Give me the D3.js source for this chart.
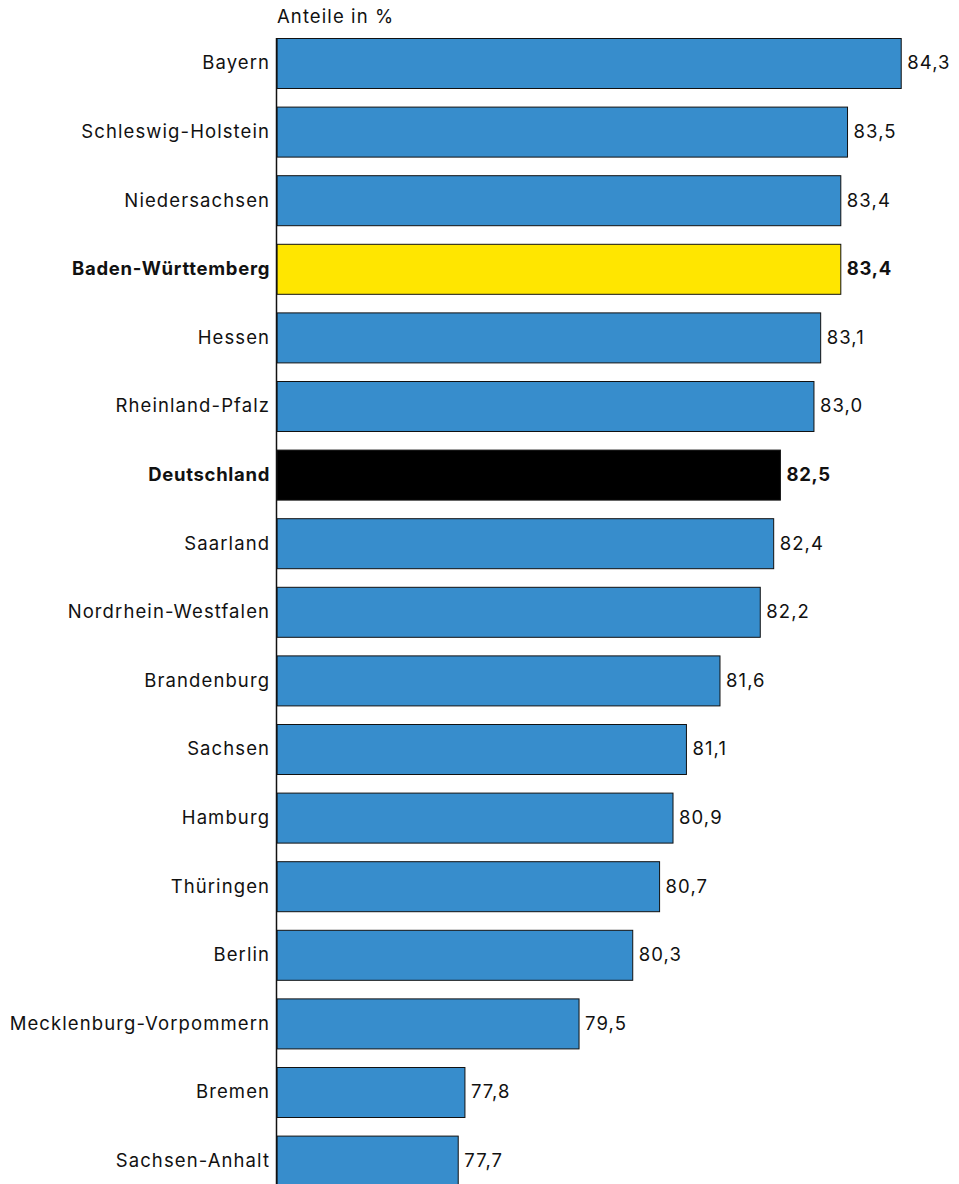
<!DOCTYPE html>
<html>
<head>
<meta charset="utf-8">
<script src="https://cdn.jsdelivr.net/npm/d3@7"></script>
<style>
  body { margin: 0; background: #fff; }
  svg { display: block; font-family: Inter, "Noto Sans", sans-serif; letter-spacing: 1.1px; }
</style>
</head>
<body>
<svg id="chart" width="959" height="1184"></svg>
<script>
var laender = ["Bayern", "Schleswig-Holstein", "Niedersachsen", "Baden-Württemberg", "Hessen",
  "Rheinland-Pfalz", "Deutschland", "Saarland", "Nordrhein-Westfalen", "Brandenburg", "Sachsen",
  "Hamburg", "Thüringen", "Berlin", "Mecklenburg-Vorpommern", "Bremen", "Sachsen-Anhalt"];
var anteile = [84.3, 83.5, 83.4, 83.4, 83.1, 83.0, 82.5, 82.4, 82.2, 81.6, 81.1, 80.9, 80.7, 80.3, 79.5, 77.8, 77.7];
var hervorgehoben = { "Baden-Württemberg": "#ffe600", "Deutschland": "#000000" };
var einheit = "Anteile in %";

var svg = d3.select("#chart");
var left = 277, top0 = 38, step = 68.6, barH = 50;
var fs = 18.5, ls = 1.1;

var x = d3.scaleLinear().domain([75, 85]).range([left, left + 671.2]);
// Bandskala: Schrittweite step, Balkenhoehe barH
var y = d3.scaleBand()
  .domain(laender)
  .range([top0, top0 + step * (laender.length - 1) + barH])
  .paddingInner((step - barH) / step)
  .paddingOuter(0);

var fmt = function(v) { return d3.format(".1f")(v).replace(".", ","); };

var data = laender.map(function(d, i) { return { name: d, value: anteile[i] }; });

svg.append("text")
  .attr("x", left)
  .attr("y", 23)
  .attr("font-size", fs)
  .attr("fill", "#111")
  .text(einheit);

svg.selectAll("rect.bar")
  .data(data)
  .enter().append("rect")
  .attr("class", "bar")
  .attr("x", x(75))
  .attr("y", function(d) { return y(d.name) + 0.5; })
  .attr("width", function(d) { return x(d.value) - x(75); })
  .attr("height", y.bandwidth())
  .attr("fill", function(d) { return hervorgehoben[d.name] || "#378dcc"; })
  .attr("stroke", "#111")
  .attr("stroke-width", 1);

svg.selectAll("text.name")
  .data(data)
  .enter().append("text")
  .attr("class", "name")
  .attr("x", left - 8 + ls)
  .attr("y", function(d) { return y(d.name) + y.bandwidth() / 2; })
  .attr("dy", "0.35em")
  .attr("text-anchor", "end")
  .attr("font-size", fs)
  .attr("font-weight", function(d) { return hervorgehoben[d.name] ? 700 : 400; })
  .attr("letter-spacing", function(d) { return hervorgehoben[d.name] ? "0.7px" : null; })
  .attr("fill", "#111")
  .text(function(d) { return d.name; });

svg.selectAll("text.val")
  .data(data)
  .enter().append("text")
  .attr("class", "val")
  .attr("x", function(d) { return x(d.value) + 6; })
  .attr("y", function(d) { return y(d.name) + y.bandwidth() / 2; })
  .attr("dy", "0.35em")
  .attr("font-size", fs)
  .attr("font-weight", function(d) { return hervorgehoben[d.name] ? 700 : 400; })
  .attr("letter-spacing", function(d) { return hervorgehoben[d.name] ? "0.7px" : null; })
  .attr("fill", "#111")
  .text(function(d) { return fmt(d.value); });

// Grundlinie
svg.append("line")
  .attr("x1", left - 0.5).attr("x2", left - 0.5)
  .attr("y1", top0).attr("y2", 1184)
  .attr("stroke", "#111")
  .attr("stroke-width", 1.5);
</script>
</body>
</html>
